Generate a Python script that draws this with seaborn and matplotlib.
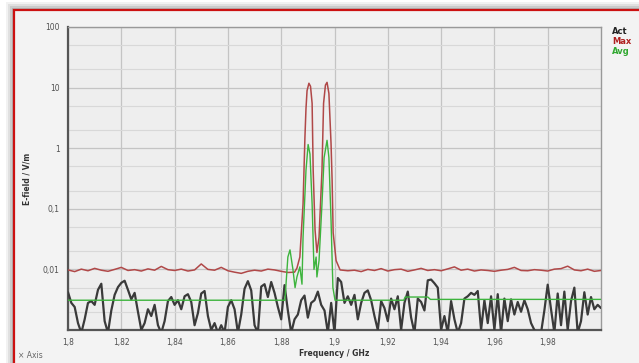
import numpy as np
import matplotlib
matplotlib.use("Agg")
import matplotlib.pyplot as plt
import seaborn as sns
from matplotlib.patches import Rectangle
from matplotlib.ticker import LogLocator, FixedLocator

# Act trace, one reading every 1.25 MHz from 1.8 to 2.0 GHz (V/m)
act_vals = [
    0.0042, 0.0028, 0.0024, 0.0013, 0.0009, 0.0015, 0.0028, 0.0030, 0.0026, 0.0046,
    0.0058, 0.0014, 0.0009, 0.0021, 0.0038, 0.0051, 0.0060, 0.0065, 0.0046, 0.0032,
    0.0041, 0.0020, 0.0010, 0.0013, 0.0022, 0.0017, 0.0026, 0.0012, 0.0009, 0.0014,
    0.0030, 0.0035, 0.0026, 0.0031, 0.0022, 0.0036, 0.0039, 0.0029, 0.0012, 0.0019,
    0.0040, 0.0044, 0.0017, 0.0010, 0.0013, 0.0009, 0.0012, 0.0009, 0.0024, 0.0031,
    0.0022, 0.0009, 0.0018, 0.0048, 0.0064, 0.0045, 0.0012, 0.0009, 0.0052, 0.0057,
    0.0035, 0.0062, 0.0041, 0.0024, 0.0015, 0.0055, 0.0021, 0.0009, 0.0015, 0.0018,
    0.0031, 0.0037, 0.0016, 0.0028, 0.0031, 0.0043, 0.0026, 0.0021, 0.0009, 0.0028,
    0.0009, 0.0072, 0.0062, 0.0028, 0.0036, 0.0026, 0.0038, 0.0015, 0.0028, 0.0041,
    0.0045, 0.0031, 0.0017, 0.0010, 0.0030, 0.0023, 0.0014, 0.0033, 0.0022, 0.0036,
    0.0010, 0.0028, 0.0043, 0.0016, 0.0009, 0.0033, 0.0029, 0.0021, 0.0066, 0.0068,
    0.0059, 0.0050, 0.0010, 0.0017, 0.0009, 0.0030, 0.0015, 0.0009, 0.0013, 0.0033,
    0.0036, 0.0041, 0.0038, 0.0044, 0.0010, 0.0031, 0.0013, 0.0036, 0.0010, 0.0039,
    0.0009, 0.0033, 0.0014, 0.0032, 0.0018, 0.0029, 0.0020, 0.0031, 0.0022, 0.0013,
    0.0010, 0.0009, 0.0009, 0.0021, 0.0056, 0.0022, 0.0009, 0.0040, 0.0012, 0.0043,
    0.0010, 0.0030, 0.0050, 0.0009, 0.0014, 0.0042, 0.0018, 0.0035, 0.0022, 0.0026,
    0.0023,
]

# Max trace: noise floor left of the carriers (2.5 MHz steps from 1.8 GHz)
max_left = [
    0.0098, 0.0092, 0.0101, 0.0095, 0.0104, 0.0097, 0.0093, 0.0100, 0.0108, 0.0096,
    0.0099, 0.0094, 0.0102, 0.0097, 0.0112, 0.0099, 0.0096, 0.0101, 0.0094, 0.0098,
    0.0123, 0.0100, 0.0097, 0.0108, 0.0095, 0.0090, 0.0086, 0.0093, 0.0097, 0.0094,
    0.0101, 0.0098, 0.0093, 0.0089, 0.0090,
]
# Max trace around the two carriers
max_peak_freq = [1.8859, 1.8870, 1.8882, 1.8889, 1.8893, 1.8897, 1.8904, 1.8910, 1.8916,
                 1.8920, 1.8927, 1.8934, 1.8942, 1.8953, 1.8959, 1.8966, 1.8972, 1.8979,
                 1.8987, 1.8991, 1.8995, 1.9006, 1.9021]
max_peak_vals = [0.0105, 0.016, 0.12, 1.5, 4.5, 8.9, 11.8, 10.5, 5.5,
                 0.43, 0.045, 0.019, 0.034, 0.43, 5.5, 11.0, 12.2, 8.0,
                 1.2, 0.3, 0.04, 0.014, 0.0098]
# Max trace: noise floor right of the carriers (2.5 MHz steps from 1.905 GHz)
max_right = [
    0.0095, 0.0097, 0.0092, 0.0100, 0.0096, 0.0103, 0.0094, 0.0099, 0.0101, 0.0093,
    0.0098, 0.0104, 0.0096, 0.0099, 0.0095, 0.0102, 0.0110, 0.0097, 0.0101, 0.0094,
    0.0098, 0.0096, 0.0093, 0.0097, 0.0100, 0.0108, 0.0096, 0.0095, 0.0099, 0.0097,
    0.0094, 0.0101, 0.0103, 0.0113, 0.0098, 0.0095, 0.0101, 0.0093, 0.0096,
]

# Avg trace
avg_freq = [1.8, 1.83, 1.86, 1.8814, 1.8825, 1.8833, 1.8844, 1.8852, 1.8859, 1.8870,
            1.8878, 1.8882, 1.8893, 1.8901, 1.8908, 1.8916, 1.8923, 1.8931, 1.8934,
            1.8942, 1.8953, 1.8961, 1.8972, 1.8979, 1.8987, 1.8994, 1.9002, 1.926,
            1.9265, 1.935, 1.936, 2.0]
avg_vals = [0.0031, 0.0031, 0.0031, 0.0031, 0.016, 0.021, 0.010, 0.005, 0.0075, 0.011,
            0.0057, 0.034, 0.43, 1.15, 0.8, 0.12, 0.010, 0.016, 0.0075,
            0.014, 0.12, 0.7, 1.35, 0.7, 0.065, 0.005, 0.0031, 0.0031,
            0.0035, 0.0035, 0.0032, 0.0032]

x_ticks = [1.8, 1.82, 1.84, 1.86, 1.88, 1.9, 1.92, 1.94, 1.96, 1.98]
x_labels = ["1,8", "1,82", "1,84", "1,86", "1,88", "1,9", "1,92", "1,94", "1,96", "1,98"]
y_ticks = [0.01, 0.1, 1, 10, 100]
y_labels = ["0,01", "0,1", "1", "10", "100"]

act_freq = np.linspace(1.8, 2.0, len(act_vals))
max_freq = (list(np.linspace(1.8, 1.885, len(max_left))) + max_peak_freq
            + list(np.linspace(1.905, 2.0, len(max_right))))
max_vals = max_left + max_peak_vals + max_right

sns.set_style("white")
plt.rcParams['font.family'] = ['DejaVu Sans']

fig = plt.figure(figsize=(6.39, 3.63), dpi=100)
fig.patch.set_facecolor("white")
# soft drop shadow around the panel
for k, a in enumerate([0.05, 0.07, 0.09, 0.12]):
    off = (8 - 2 * k)
    fig.patches.append(Rectangle(((14 - off) / 639, -0.05), 1.0, 1 - (10 - off) / 363 + 0.05,
                                 transform=fig.transFigure, facecolor="black",
                                 edgecolor="none", alpha=a, zorder=-10 + k))
# framed panel with red border, kept behind the axes
fig.patches.append(Rectangle((14 / 639, -0.05), 1.0, 1 - 10 / 363 + 0.05,
                             transform=fig.transFigure, facecolor="#f3f3f3",
                             edgecolor="#cc1111", linewidth=1.6, zorder=-5))

ax = fig.add_axes([68 / 639, 1 - 330 / 363, 533 / 639, 303 / 363])
ax.set_facecolor("#eeeeee")

sns.lineplot(x=act_freq, y=act_vals, ax=ax, color="#3a3a3a", linewidth=1.6, zorder=3)
sns.lineplot(x=max_freq, y=max_vals, ax=ax, color="#b04848", linewidth=1.1, zorder=4)
sns.lineplot(x=avg_freq, y=avg_vals, ax=ax, color="#3db43d", linewidth=1.0, zorder=5)

ax.set_yscale("log")
ax.set_xlim(1.8, 2.0)
ax.set_ylim(0.001, 100)
ax.xaxis.set_major_locator(FixedLocator(x_ticks))
ax.set_xticklabels(x_labels)
ax.yaxis.set_major_locator(FixedLocator(y_ticks))
ax.set_yticklabels(y_labels)
ax.yaxis.set_minor_locator(LogLocator(base=10, subs=[2, 5]))
ax.yaxis.set_minor_formatter(plt.NullFormatter())
ax.tick_params(axis="both", which="both", length=0, labelsize=5.5,
               labelcolor="#505050", pad=6)
ax.grid(True, which="major", color="#c4c4c4", linewidth=0.9)
ax.grid(True, which="minor", axis="y", color="#d8d8d8", linewidth=0.8)
ax.set_axisbelow(True)

for side in ["left", "bottom"]:
    ax.spines[side].set_color("#555555")
    ax.spines[side].set_linewidth(1.6)
for side in ["top", "right"]:
    ax.spines[side].set_color("#999999")
    ax.spines[side].set_linewidth(1.0)

ax.set_xlabel("Frequency / GHz", fontsize=5.5, fontweight="bold", color="#333333", labelpad=1)
ax.set_ylabel("E-field / V/m", fontsize=5.5, fontweight="bold", color="#333333", labelpad=8)

fig.text(612 / 639, 1 - 32 / 363, "Act", fontsize=6, fontweight="bold", color="#222222", va="center")
fig.text(612 / 639, 1 - 42 / 363, "Max", fontsize=6, fontweight="bold", color="#b02020", va="center")
fig.text(612 / 639, 1 - 52 / 363, "Avg", fontsize=6, fontweight="bold", color="#30a830", va="center")
fig.text(18 / 639, 1 - 355 / 363, "× Axis", fontsize=5.5, color="#666666", va="center")

fig.savefig("out.png", dpi=100)
